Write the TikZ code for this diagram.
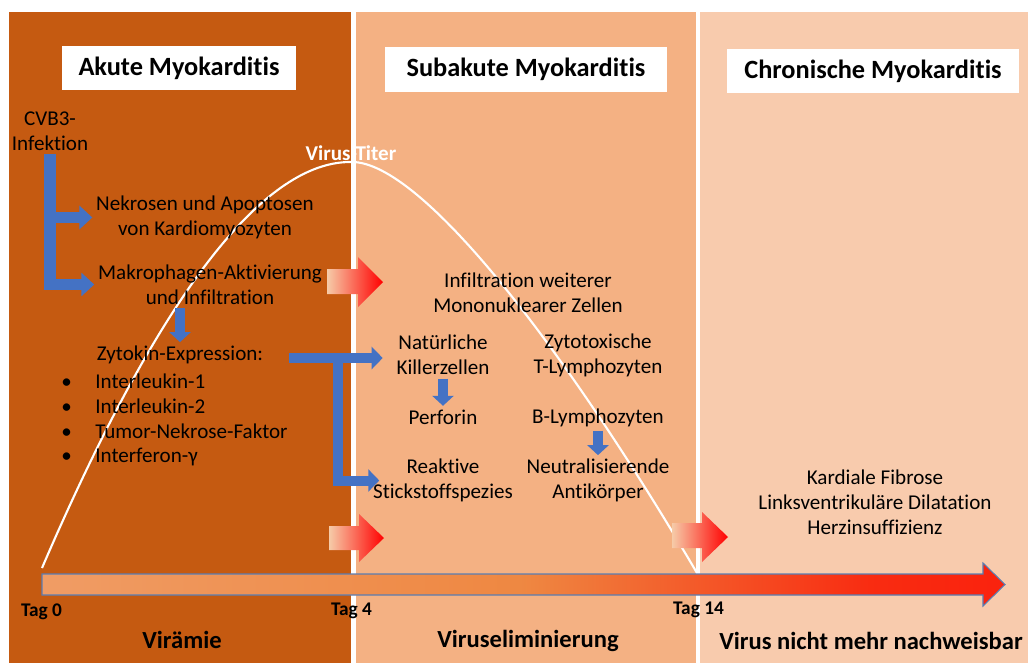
\documentclass[tikz,border=0pt]{standalone}
\usepackage{fontspec}
\setmainfont{Carlito}[RawFeature={-liga;-clig;-calt;-dlig}]
\usetikzlibrary{arrows.meta}

\definecolor{akut}{HTML}{C55A11}
\definecolor{subakut}{HTML}{F4B183}
\definecolor{chron}{HTML}{F8CBAD}
\definecolor{pfeilblau}{HTML}{4472C4}
\definecolor{pfirsich}{HTML}{F6CBA8}
\definecolor{zeithell}{HTML}{F2B48C}
\definecolor{orangeton}{HTML}{ED7D31}
\definecolor{zeitrand}{HTML}{5B7DB1}

\pgfdeclarehorizontalshading{zeitverlauf}{100bp}{color(0bp)=(zeithell); color(32bp)=(zeithell!45!orangeton);
  color(50bp)=(orangeton!92!white); color(68bp)=(orangeton!35!red); color(100bp)=(red)}

\begin{document}
\begin{tikzpicture}[x=0.02cm, y=-0.02cm,
  txt/.style={align=center, inner sep=2pt, font=\fontsize{12}{14.2}\selectfont},
  titel/.style={fill=white, inner sep=0pt, font=\bfseries\fontsize{15}{18}\selectfont},
  tag/.style={font=\bfseries\fontsize{11}{13}\selectfont},
  phase/.style={font=\bfseries\fontsize{14}{17}\selectfont},
  punkt/.style={anchor=west, inner sep=0pt, font=\fontsize{12}{14.2}\selectfont},
  bluearr/.style={draw=pfeilblau, line width=0.23cm, -{Triangle[width=0.46cm,length=0.26cm]}},
  zytarr/.style={draw=pfeilblau, line width=0.2cm, -{Triangle[width=0.44cm,length=0.22cm]}},
  downarr/.style={draw=pfeilblau, line width=0.19cm, -{Triangle[width=0.42cm,length=0.2cm]}},
  redarr/.style={left color=pfirsich, middle color=orangeton, right color=red},
  zeitpfeil/.style={shading=zeitverlauf, draw=zeitrand, line width=0.6pt}]

\useasboundingbox (0,0) rectangle (1028,663);

% phases
\fill[akut] (9,12) rectangle (351,663);
\fill[subakut] (356,12) rectangle (696,663);
\fill[chron] (700,12) rectangle (1028,663);

% virus titer
\draw[white, line width=1.2pt] (42,568) .. controls (140,340) and (250,160) .. (352,162)
  .. controls (420,162) and (560,340) .. (697,573);
\node[text=white, font=\bfseries\fontsize{12}{14}\selectfont] (titer) at (351,153) {Virus-Titer};

% time axis
\shadedraw[zeitpfeil] (42,574) -- (983,574) -- (983,563) -- (1005,584.5) -- (983,606)
  -- (983,595) -- (42,595) -- cycle;

\shade[redarr] (327,269) -- (358,269) -- (358,257) -- (383,282) -- (358,307) -- (358,294) -- (327,294) -- cycle;
\shade[redarr] (329,526) -- (359,526) -- (359,514) -- (384,538) -- (359,562) -- (359,550) -- (329,550) -- cycle;
\shade[redarr] (672,523) -- (702,523) -- (702,512) -- (728,537) -- (702,562) -- (702,548) -- (672,548) -- cycle;

\node[titel, minimum width=4.68cm, minimum height=0.88cm] (akute) at (179,68) {Akute Myokardit\kern0pt is};
\node[titel, minimum width=5.64cm, minimum height=0.9cm] (subakute) at (526,69.5) {Subakute Myokardit\kern0pt is};
\node[titel, minimum width=5.84cm, minimum height=0.88cm] (chronisch) at (873,71) {Chronische Myokardit\kern0pt is};

\node[txt] (cvb) at (50,131) {CVB3-\\Infektion};
\node[txt] (nek) at (205,217.5) {Nekrosen und Apoptosen\\von Kardiomyozyten};
\node[txt] (mak) at (210,284.5) {Makrophagen-Aktivierung\\und Infiltration};
\node[txt] (zyt) at (180,355) {Zytokin-Expression:};
\node[punkt] (il1) at (61,381) {\makebox[0.68cm][l]{\textbullet}Interleukin-1};
\node[punkt] (il2) at (61,406) {\makebox[0.68cm][l]{\textbullet}Interleukin-2};
\node[punkt] (tnf) at (61,431) {\makebox[0.68cm][l]{\textbullet}Tumor-Nekrose-Faktor};
\node[punkt] (ifn) at (61,457) {\makebox[0.68cm][l]{\textbullet}Interferon-γ};

\node[txt] (infil) at (528,292.5) {Infiltration weiterer\\Mononuklearer Zellen};
\node[txt] (nat) at (443,355) {Natürliche\\Killerzellen};
\node[txt] (perf) at (443,417) {Perforin};
\node[txt] (reakt) at (443,480.5) {Reaktive\\Stickstoffspezies};
\node[txt] (zyto) at (598,355) {Zytotoxische\\T-Lymphozyten};
\node[txt] (blym) at (598,418) {B-Lymphozyten};
\node[txt] (neut) at (598,480.5) {Neutralisierende\\Antikörper};

\node[txt] (folgen) at (875,502) {Kardiale Fibrose\\Linksventrikuläre Dilatation\\Herzinsuffizienz};

\node[tag] (tag0) at (41.5,612) {Tag 0};
\node[tag] (tag4) at (351.5,611) {Tag 4};
\node[tag] (tag14) at (698.5,610) {Tag 14};
\node[phase] (viraemie) at (182,640) {Virämie};
\node[phase] (elim) at (528,641) {Viruseliminierung};
\node[phase] (nachweis) at (871,641) {Virus nicht mehr nachweisbar};

% blue arrows
\coordinate (zk) at (289,358);
\coordinate (zkv) at (337.5,358);
\draw[bluearr] (cvb.south) |- (nek.west);
\draw[bluearr] (cvb.south) |- (mak.west);
\draw[downarr] (mak.south -| zyt.north) -- (zyt.north);
\draw[zytarr, shorten >=0.2cm] (zk) -- (zk -| nat.west);
\draw[zytarr] (zkv) |- ([xshift=0.2cm]reakt.west);
\draw[downarr] (nat.south) -- (perf.north);
\draw[downarr] (blym.south) -- (neut.north);

\end{tikzpicture}
\end{document}
